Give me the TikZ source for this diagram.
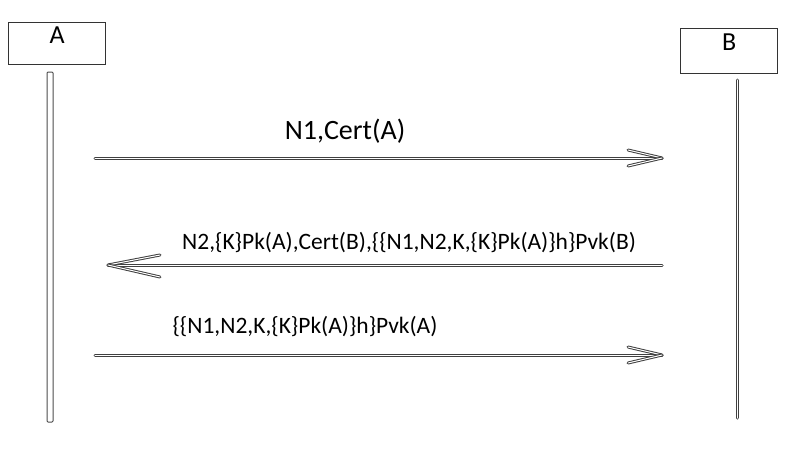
\documentclass[tikz,border=0pt]{standalone}
\usepackage{fontspec}
\setmainfont{Carlito}
\begin{document}
\begin{tikzpicture}[x=1pt,y=-1pt,
  actor/.style={draw=black!80,line width=1.3pt,minimum width=97pt},
  anm/.style={font=\fontsize{26}{28}\selectfont},
  dl/.style={draw=black!75,double=white,double distance=1pt,line width=1pt,line cap=round},
  lbl/.style={font=\fontsize{23.5}{26}\selectfont}]
\useasboundingbox (0,0) rectangle (800,450);
\node[actor,minimum height=42pt,anchor=north west] (A) at (8,22) {};
\node[anm,anchor=north] (At) at ([yshift=-1pt]A.north) {A};
\node[actor,minimum height=45pt,anchor=north west] (B) at (680,28) {};
\node[anm,anchor=north] (Bt) at ([yshift=-2pt]B.north) {B};
\draw[draw=black!70,line width=1pt,rounded corners=1pt] (47,72) rectangle (53,422);
\coordinate (b1) at (737,80); \coordinate (b2) at (737,418);
\draw[dl] (b1) -- (b2);
% arrow 1
\coordinate (s1) at (95,158); \coordinate (e1) at (662,158);
\draw[dl] (s1) -- (e1);
\draw[dl] (e1) -- (628,150); \draw[dl] (e1) -- (628,166);
\node[font=\fontsize{28}{30}\selectfont] (l1) at (345,131) {N1,Cert(A)};
% arrow 2
\coordinate (s2) at (662,265); \coordinate (e2) at (108,265);
\draw[dl] (s2) -- (e2);
\draw[dl] (e2) -- (160,255); \draw[dl] (e2) -- (160,277);
\node[lbl] (l2) at (409,243) {N2,\{K\}Pk(A),Cert(B),\{\{N1,N2,K,\{K\}Pk(A)\}h\}Pvk(B)};
% arrow 3
\coordinate (s3) at (95,355); \coordinate (e3) at (662,355);
\draw[dl] (s3) -- (e3);
\draw[dl] (e3) -- (628,347); \draw[dl] (e3) -- (628,363);
\node[lbl] (l3) at (305,327) {\{\{N1,N2,K,\{K\}Pk(A)\}h\}Pvk(A)};
\end{tikzpicture}
\end{document}
